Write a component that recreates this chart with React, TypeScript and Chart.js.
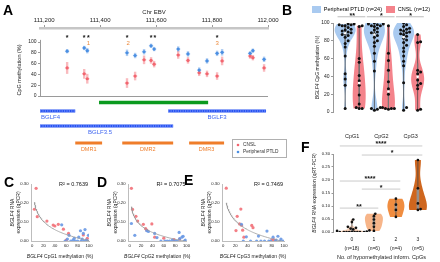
import React, { useEffect, useRef } from 'react';
import { Chart, registerables } from 'chart.js';

Chart.register(...registerables);

const FONT = "'Liberation Sans', Arial, Helvetica, sans-serif";
Chart.defaults.font.family = FONT;
Chart.defaults.color = '#222';

const BLUE = '#4b8fe2';
const RED = '#f2656f';
const BLUE_ERR = 'rgba(75,143,226,0.45)';
const RED_ERR = 'rgba(242,101,111,0.45)';
const BLUE_V = 'rgba(160,196,238,0.9)';
const RED_V = 'rgba(243,118,126,0.9)';
const PT_RED = 'rgba(242,112,120,0.9)';
const PT_BLUE = 'rgba(104,152,228,0.9)';

// ---------- Panel A ----------
const A_TICKS = [111200, 111400, 111600, 111800, 112000];
const A_POS = [111282, 111343, 111354, 111496, 111525, 111557, 111582, 111593, 111679, 111714, 111754, 111782, 111818, 111836, 111936, 111946, 111986];
const A_PTLD = [83, 89, 84, 80, 75, 82, 93, 87, 87, 78, 48, 65, 79, 81, 79, 84, 68];
const A_PTLD_SE = [4, 4, 5, 6, 5, 5, 4, 4, 5, 5, 5, 5, 5, 6, 4, 4, 5];
const A_CNSL = [52, 41, 32, 24, 37, 67, 66, 59, 76, 66, 43, 41, 37, 65, 74, 71, 52];
const A_CNSL_SE = [11, 9, 9, 9, 8, 8, 6, 6, 7, 6, 6, 6, 7, 8, 5, 5, 7];
const A_STARS = [111282, 111343, 111358, 111496, 111582, 111596, 111818];
const A_DMR_NUM_POS = [111358, 111500, 111818];
const A_DMR_NUM = ['1', '2', '3'];
const GENES = ['BGLF4', 'BGLF3.5', 'BGLF3'];
const GENE_START = [111185, 111185, 111643];
const GENE_END = [111311, 111661, 111993];
const GREEN_START = 111396;
const GREEN_END = 111786;
const DMRS = ['DMR1', 'DMR2', 'DMR3'];
const DMR_START = [111311, 111479, 111718];
const DMR_END = [111407, 111661, 111843];

// ---------- Panel B ----------
const B_CATS = ['CpG1', 'CpG2', 'CpG3'];
const B_PTLD = [
  [99, 99, 98, 98, 97, 97, 95, 93, 92, 91, 90, 89, 88, 87, 86, 84, 80, 77, 73, 63, 43, 37, 30, 4],
  [100, 99, 99, 98, 97, 97, 96, 94, 92, 90, 89, 88, 86, 84, 80, 78, 74, 66, 57, 46, 5, 4, 3, 2],
  [100, 98, 96, 94, 93, 92, 91, 90, 89, 88, 87, 85, 83, 81, 78, 75, 72, 68, 63, 57, 52, 33, 5, 2],
];
const B_CNSL = [
  [97, 96, 60, 56, 41, 35, 30, 19, 9, 5, 4, 4],
  [97, 66, 58, 47, 34, 26, 20, 5, 4, 4, 4, 3],
  [87, 79, 78, 47, 45, 43, 36, 32, 30, 26, 3, 2],
];
const B_SIG = ['**', '*', '*'];

// ---------- Panels C, D, E ----------
const C_CNSL_X = [7, 4, 9, 26, 37, 40, 46, 55, 64, 60, 90, 97];
const C_CNSL_Y = [0.277, 0.167, 0.128, 0.105, 0.084, 0.079, 0.088, 0.062, 0.04, 0.005, 0.032, 0.014];
const C_PTLD_X = [52, 58, 62, 65, 68, 72, 74, 76, 80, 82, 85, 86, 88, 90, 91, 93, 95, 97, 99, 100];
const C_PTLD_Y = [0.085, 0.0, 0.01, 0.03, 0.0, 0.005, 0.014, 0.0, 0.0, 0.02, 0.054, 0.0, 0.01, 0.04, 0.0, 0.06, 0.005, 0.0, 0.03, 0.0];
const C_FIT = [-0.0625, 0.29];

const D_CNSL_X = [3, 5, 11, 14, 24, 39, 28, 30, 44, 60, 78, 88];
const D_CNSL_Y = [0.277, 0.166, 0.13, 0.105, 0.088, 0.09, 0.065, 0.058, 0.02, 0.015, 0.008, 0.01];
const D_PTLD_X = [3, 9, 30, 33, 44, 48, 55, 62, 66, 70, 75, 80, 84, 87, 88, 92, 94, 96, 98, 100];
const D_PTLD_Y = [0.092, 0.03, 0.054, 0.05, 0.04, 0.018, 0, 0, 0, 0, 0.005, 0, 0, 0.045, 0.012, 0.02, 0.025, 0, 0.005, 0];
const D_FIT = [-0.052, 0.237];

const E_CNSL_X = [5, 29, 23, 27, 30, 21, 32, 47, 49, 34, 80, 83];
const E_CNSL_Y = [0.278, 0.168, 0.13, 0.09, 0.083, 0.055, 0.057, 0.082, 0.07, 0.02, 0.005, 0.008];
const E_PTLD_X = [30, 38, 33, 45, 58, 62, 72, 75, 82, 86, 87, 90, 93, 95, 98, 55, 68, 78];
const E_PTLD_Y = [0.088, 0.022, 0, 0, 0.026, 0, 0.052, 0, 0.02, 0, 0.005, 0.025, 0, 0.01, 0, 0, 0, 0];
const E_FIT = [-0.068, 0.31];

const R2 = ['0.7639', '0.7075', '0.7469'];

// ---------- Panel F ----------
const F_GROUPS = [
  [0.048, 0.038, 0.02, 0.016, 0.013, 0.01, 0.006, 0.004, 0.002, 0, 0, 0, 0, 0, 0, 0, 0, 0],
  [0.07, 0.061, 0.048, 0.034, 0.02, 0.004],
  [0.128, 0.105, 0.085, 0.058],
  [0.277, 0.168, 0.11, 0.088, 0.085],
];
const F_SIG_FROM = [0, 1, 0, 1, 0];
const F_SIG_TO = [3, 3, 2, 2, 1];
const F_SIG_Y = [0.331, 0.296, 0.196, 0.165, 0.092];
const F_SIG_LABEL = ['****', '*', '****', '*', '**'];
const F_COLORS = ['#fbd4bb', '#f7b589', '#f08d40', '#cf661e'];

// ---------- helpers ----------
type Part = [string, boolean];

function rich(ctx: CanvasRenderingContext2D, parts: Part[], x: number, y: number, size: number, rotate: boolean, color = '#222') {
  ctx.save();
  ctx.translate(x, y);
  if (rotate) ctx.rotate(-Math.PI / 2);
  ctx.textBaseline = 'middle';
  ctx.textAlign = 'left';
  ctx.fillStyle = color;
  const widths = parts.map(([t, it]) => {
    ctx.font = `${it ? 'italic ' : ''}${size}px ${FONT}`;
    return ctx.measureText(t).width;
  });
  let cx = -widths.reduce((s, w) => s + w, 0) / 2;
  parts.forEach(([t, it], i) => {
    ctx.font = `${it ? 'italic ' : ''}${size}px ${FONT}`;
    ctx.fillText(t, cx, 0);
    cx += widths[i];
  });
  ctx.restore();
}

function quantile(sorted: number[], q: number) {
  const pos = (sorted.length - 1) * q;
  const lo = Math.floor(pos);
  const hi = Math.ceil(pos);
  return sorted[lo] + (sorted[hi] - sorted[lo]) * (pos - lo);
}

function bandwidth(vals: number[]) {
  const n = vals.length;
  const m = vals.reduce((s, v) => s + v, 0) / n;
  const sd = Math.sqrt(vals.reduce((s, v) => s + (v - m) ** 2, 0) / (n - 1));
  const s = [...vals].sort((a, b) => a - b);
  const iqr = quantile(s, 0.75) - quantile(s, 0.25);
  let lo = Math.min(sd, iqr / 1.34);
  if (!(lo > 0)) lo = sd || 1;
  return 0.9 * lo * Math.pow(n, -0.2);
}

function density(vals: number[], h: number, v: number) {
  let d = 0;
  for (const x of vals) {
    const z = (v - x) / h;
    d += Math.exp(-0.5 * z * z);
  }
  return d / (vals.length * h);
}

function drawViolin(ctx: CanvasRenderingContext2D, xs: any, ys: any, vals: number[], center: number, halfPx: number, fill: string) {
  const s = [...vals].sort((a, b) => a - b);
  const lo = s[0];
  const hi = s[s.length - 1];
  const h = bandwidth(vals);
  const N = 70;
  const vs: number[] = [];
  const ds: number[] = [];
  for (let i = 0; i <= N; i++) {
    const v = lo + ((hi - lo) * i) / N;
    vs.push(v);
    ds.push(density(vals, h, v));
  }
  const maxD = Math.max(...ds);
  const cx = xs.getPixelForValue(center);
  ctx.beginPath();
  for (let i = 0; i <= N; i++) {
    const px = cx - (halfPx * ds[i]) / maxD;
    const py = ys.getPixelForValue(vs[i]);
    if (i) ctx.lineTo(px, py);
    else ctx.moveTo(px, py);
  }
  for (let i = N; i >= 0; i--) ctx.lineTo(cx + (halfPx * ds[i]) / maxD, ys.getPixelForValue(vs[i]));
  ctx.closePath();
  ctx.fillStyle = fill;
  ctx.fill();
}

function drawInner(ctx: CanvasRenderingContext2D, xs: any, ys: any, vals: number[], center: number, boxW: number, boxColor: string) {
  const s = [...vals].sort((a, b) => a - b);
  const cx = xs.getPixelForValue(center);
  ctx.strokeStyle = '#4a4a4a';
  ctx.lineWidth = 0.8;
  ctx.beginPath();
  ctx.moveTo(cx, ys.getPixelForValue(s[0]));
  ctx.lineTo(cx, ys.getPixelForValue(s[s.length - 1]));
  ctx.stroke();
  const q1 = ys.getPixelForValue(quantile(s, 0.25));
  const q3 = ys.getPixelForValue(quantile(s, 0.75));
  ctx.fillStyle = boxColor;
  ctx.fillRect(cx - boxW / 2, q3, boxW, q1 - q3);
}

// beeswarm offsets (layout only)
function swarm(vals: number[], center: number, pxX: number, pxY: number, d: number) {
  const order = vals.map((_, i) => i).sort((a, b) => vals[a] - vals[b]);
  const placed: { x: number; y: number }[] = [];
  const xs = new Array(vals.length).fill(center);
  for (const i of order) {
    const y = vals[i] * pxY;
    let off = 0;
    for (let step = 0; step < 60; step++) {
      off = step === 0 ? 0 : (step % 2 === 1 ? 1 : -1) * Math.ceil(step / 2) * d * 0.5;
      const o = off;
      if (placed.every((p) => Math.hypot(p.x - o, p.y - y) >= d)) break;
    }
    placed.push({ x: off, y });
    xs[i] = center + off / pxX;
  }
  return xs;
}

const fixedTicks = (vals: number[]) => (axis: any) => {
  axis.ticks = vals.map((value) => ({ value }));
};

// ---------- Panel A chart ----------
function makeA(canvas: HTMLCanvasElement) {
  const plugin = {
    id: 'panelA',
    beforeDatasetsDraw(chart: any) {
      const { ctx, scales: { x, y } } = chart;
      ctx.save();
      const sets: [number[], number[], string][] = [
        [A_PTLD, A_PTLD_SE, BLUE_ERR],
        [A_CNSL, A_CNSL_SE, RED_ERR],
      ];
      sets.forEach(([vals, se, col]) => {
        ctx.strokeStyle = col;
        A_POS.forEach((p, i) => {
          const px = x.getPixelForValue(p);
          ctx.lineWidth = 2.4;
          ctx.beginPath();
          ctx.moveTo(px, y.getPixelForValue(vals[i] - se[i]));
          ctx.lineTo(px, y.getPixelForValue(vals[i] + se[i]));
          ctx.stroke();
          const py = y.getPixelForValue(vals[i]);
          ctx.lineWidth = 1;
          ctx.beginPath();
          ctx.moveTo(px - 2.2, py);
          ctx.lineTo(px + 2.2, py);
          ctx.stroke();
        });
      });
      ctx.restore();
    },
    afterDraw(chart: any) {
      const { ctx, chartArea: a, scales: { x, y } } = chart;
      ctx.save();
      ctx.strokeStyle = '#9a9a9a';
      ctx.lineWidth = 1;
      ctx.beginPath();
      ctx.moveTo(a.left + 0.5, y.getPixelForValue(104));
      ctx.lineTo(a.left + 0.5, y.getPixelForValue(0));
      ctx.stroke();
      ctx.beginPath();
      ctx.moveTo(a.left, y.getPixelForValue(0) + 0.5);
      ctx.lineTo(a.right, y.getPixelForValue(0) + 0.5);
      ctx.stroke();

      rich(ctx, [['CpG methylation (%)', false]], 19, 70, 5.5, true);

      ctx.textAlign = 'center';
      ctx.textBaseline = 'middle';
      ctx.fillStyle = '#111';
      ctx.font = `bold 7px ${FONT}`;
      A_STARS.forEach((p) => ctx.fillText('*', x.getPixelForValue(p), y.getPixelForValue(108)));
      ctx.fillStyle = '#ec8a3c';
      ctx.font = `6px ${FONT}`;
      A_DMR_NUM_POS.forEach((p, i) => ctx.fillText(A_DMR_NUM[i], x.getPixelForValue(p), y.getPixelForValue(98)));

      const b = a.bottom;
      const seg = (s: number, e: number, yy: number, col: string, w: number) => {
        ctx.strokeStyle = col;
        ctx.lineWidth = w;
        ctx.beginPath();
        ctx.moveTo(x.getPixelForValue(s), yy);
        ctx.lineTo(x.getPixelForValue(e), yy);
        ctx.stroke();
      };
      seg(GREEN_START, GREEN_END, b + 6.5, '#0a9a1e', 3.5);
      const geneRows = [b + 15, b + 30, b + 15];
      const labelRows = [b + 21, b + 36, b + 21];
      GENES.forEach((g, i) => {
        seg(GENE_START[i], GENE_END[i], geneRows[i], '#2450f2', 3);
        ctx.setLineDash([1.2, 1.2]);
        seg(GENE_START[i], GENE_END[i], geneRows[i], 'rgba(190,205,255,0.95)', 0.8);
        ctx.setLineDash([]);
      });
      ctx.fillStyle = '#3f66f0';
      ctx.font = `6px ${FONT}`;
      ctx.textAlign = 'left';
      ctx.fillText(GENES[0], x.getPixelForValue(GENE_START[0]) + 1, labelRows[0]);
      ctx.textAlign = 'center';
      ctx.fillText(GENES[1], 100, labelRows[1]);
      ctx.fillText(GENES[2], 217, labelRows[2]);

      DMRS.forEach((d, i) => {
        seg(DMR_START[i], DMR_END[i], b + 47, '#ef7d2a', 3);
        ctx.fillStyle = '#ef7d2a';
        ctx.font = `5.5px ${FONT}`;
        ctx.fillText(d, (x.getPixelForValue(DMR_START[i]) + x.getPixelForValue(DMR_END[i])) / 2, b + 53);
      });

      // legend box
      ctx.fillStyle = '#fff';
      ctx.fillRect(232.5, 139.5, 54, 18);
      ctx.strokeStyle = '#b0b0b0';
      ctx.lineWidth = 1;
      ctx.strokeRect(232.5, 139.5, 54, 18);
      ctx.fillStyle = RED;
      ctx.beginPath();
      ctx.arc(238, 145, 1.3, 0, Math.PI * 2);
      ctx.fill();
      ctx.fillStyle = BLUE;
      ctx.beginPath();
      ctx.arc(238, 152, 1.3, 0, Math.PI * 2);
      ctx.fill();
      ctx.fillStyle = '#333';
      ctx.font = `4.8px ${FONT}`;
      ctx.textAlign = 'left';
      ctx.fillText('CNSL', 243, 145);
      ctx.fillText('Peripheral PTLD', 243, 152);
      ctx.restore();
    },
  };

  return new Chart(canvas, {
    type: 'scatter',
    data: {
      datasets: [
        { label: 'Peripheral PTLD', data: A_POS.map((x, i) => ({ x, y: A_PTLD[i] })), backgroundColor: BLUE, borderWidth: 0, pointRadius: 1.6 },
        { label: 'CNSL', data: A_POS.map((x, i) => ({ x, y: A_CNSL[i] })), backgroundColor: RED, borderWidth: 0, pointRadius: 1.6 },
      ],
    },
    options: {
      responsive: false,
      animation: false,
      events: [],
      layout: { padding: { left: 0, right: 22, top: 0, bottom: 64 } },
      plugins: { legend: { display: false }, tooltip: { enabled: false } },
      scales: {
        x: {
          type: 'linear',
          position: 'top',
          min: 111185,
          max: 112000,
          afterBuildTicks: fixedTicks(A_TICKS),
          afterFit: (s: any) => { s.height = 28; },
          ticks: { callback: (v: any) => Number(v).toLocaleString('en-US'), font: { size: 6 }, padding: 1, maxRotation: 0, color: '#222' },
          grid: { drawOnChartArea: false, drawTicks: true, tickLength: 3, color: '#9a9a9a' },
          border: { display: true, color: '#c6c6c6', width: 2.5 },
          title: { display: true, text: 'Chr EBV', font: { size: 6 }, padding: { top: 9, bottom: 0 }, color: '#222' },
        },
        y: {
          min: 0,
          max: 126,
          afterBuildTicks: fixedTicks([0, 20, 40, 60, 80, 100]),
          afterFit: (s: any) => { s.width = 40; },
          ticks: { font: { size: 5 }, padding: 1.5, color: '#222' },
          grid: { drawOnChartArea: false, tickLength: 2, color: '#9a9a9a' },
          border: { display: false },
        },
      },
    },
    plugins: [plugin],
  } as any);
}

// ---------- Panel B chart ----------
const B_OFF = 0.24;
function makeB(canvas: HTMLCanvasElement) {
  const ptld = B_PTLD.flatMap((vals, g) => {
    const xs = swarm(vals, g + 1 - B_OFF, 30.5, 0.89, 3.1);
    return vals.map((v, i) => ({ x: xs[i], y: v }));
  });
  const cnsl = B_CNSL.flatMap((vals, g) => {
    const xs = swarm(vals, g + 1 + B_OFF, 30.5, 0.89, 3.1);
    return vals.map((v, i) => ({ x: xs[i], y: v }));
  });
  const plugin = {
    id: 'panelB',
    beforeDatasetsDraw(chart: any) {
      const { ctx, scales: { x, y } } = chart;
      ctx.save();
      B_PTLD.forEach((vals, g) => drawViolin(ctx, x, y, vals, g + 1 - B_OFF, 10.5, BLUE_V));
      B_CNSL.forEach((vals, g) => drawViolin(ctx, x, y, vals, g + 1 + B_OFF, 6.5, RED_V));
      B_PTLD.forEach((vals, g) => drawInner(ctx, x, y, vals, g + 1 - B_OFF, 1.2, '#777'));
      B_CNSL.forEach((vals, g) => drawInner(ctx, x, y, vals, g + 1 + B_OFF, 1.2, '#777'));
      ctx.restore();
    },
    afterDatasetsDraw(chart: any) {
      const { ctx, scales: { x, y } } = chart;
      ctx.save();
      ctx.fillStyle = '#fff';
      const med = (vals: number[], c: number) => {
        const s = [...vals].sort((a, b) => a - b);
        ctx.beginPath();
        ctx.arc(x.getPixelForValue(c), y.getPixelForValue(quantile(s, 0.5)), 1.3, 0, Math.PI * 2);
        ctx.fill();
      };
      B_PTLD.forEach((v, g) => med(v, g + 1 - B_OFF));
      B_CNSL.forEach((v, g) => med(v, g + 1 + B_OFF));
      ctx.restore();
    },
    afterDraw(chart: any) {
      const { ctx, chartArea: a, scales: { x, y } } = chart;
      ctx.save();
      B_SIG.forEach((lab, g) => {
        const c = g + 1;
        const ly = y.getPixelForValue(107);
        ctx.strokeStyle = '#aaa';
        ctx.lineWidth = 0.8;
        ctx.beginPath();
        ctx.moveTo(x.getPixelForValue(c - 0.5), ly);
        ctx.lineTo(x.getPixelForValue(c + 0.45), ly);
        ctx.stroke();
        ctx.fillStyle = '#111';
        ctx.font = `bold 7px ${FONT}`;
        ctx.textAlign = 'center';
        ctx.textBaseline = 'middle';
        ctx.fillText(lab, x.getPixelForValue(c), ly - 1);
      });
      rich(ctx, [['BGLF4', true], [' CpG methylation (%)', false]], a.left - 15, (a.top + a.bottom) / 2, 5, true);
      ctx.restore();
    },
  };
  return new Chart(canvas, {
    type: 'scatter',
    data: {
      datasets: [
        { label: 'Peripheral PTLD (n=24)', data: ptld, backgroundColor: '#111', borderWidth: 0, pointRadius: 1.5 },
        { label: 'CNSL (n=12)', data: cnsl, backgroundColor: '#111', borderWidth: 0, pointRadius: 1.5 },
      ],
    },
    options: {
      responsive: false,
      animation: false,
      events: [],
      layout: { padding: { left: 0, right: 6, top: 2, bottom: 0 } },
      plugins: {
        tooltip: { enabled: false },
        legend: {
          position: 'top',
          align: 'end',
          labels: {
            boxWidth: 9,
            boxHeight: 7,
            padding: 4,
            font: { size: 5.5 },
            color: '#222',
            generateLabels: () => [
              { text: `Peripheral PTLD (n=${B_PTLD[0].length})`, fillStyle: BLUE_V, strokeStyle: BLUE_V, lineWidth: 0, datasetIndex: 0 },
              { text: `CNSL (n=${B_CNSL[0].length})`, fillStyle: RED_V, strokeStyle: RED_V, lineWidth: 0, datasetIndex: 1 },
            ],
          },
        },
      },
      scales: {
        x: {
          type: 'linear',
          min: 0.344,
          max: 3.65,
          afterBuildTicks: fixedTicks([1, 2, 3]),
          afterFit: (s: any) => { s.height = 33; },
          ticks: { callback: (v: any) => B_CATS[Number(v) - 1], font: { size: 5.5 }, padding: 21, color: '#222' },
          grid: { display: false, drawTicks: false },
          border: { display: false },
        },
        y: {
          min: 0,
          max: 100,
          afterBuildTicks: fixedTicks([0, 20, 40, 60, 80, 100]),
          afterFit: (s: any) => { s.width = 43; },
          ticks: { font: { size: 5 }, padding: 1.5, color: '#222' },
          grid: { drawOnChartArea: false, tickLength: 2, color: '#999' },
          border: { color: '#999' },
        },
      },
    },
    plugins: [plugin],
  } as any);
}

// ---------- Panels C, D, E ----------
function makeCorr(canvas: HTMLCanvasElement, rx: number[], ry: number[], bx: number[], by: number[], fit: number[], r2: string, cpg: string, yw: number, padRight: number, xmin: number) {
  const allX = [...rx, ...bx];
  const x0 = Math.min(...allX);
  const x1 = Math.max(...allX);
  // fitted logarithmic trendline (coefficients)
  const trend: { x: number; y: number }[] = [];
  for (let i = 0; i <= 80; i++) {
    const xv = x0 * Math.pow(x1 / x0, i / 80);
    trend.push({ x: xv, y: fit[0] * Math.log(xv) + fit[1] });
  }
  const plugin = {
    id: 'corr',
    afterDraw(chart: any) {
      const { ctx, chartArea: a } = chart;
      ctx.save();
      ctx.fillStyle = '#111';
      ctx.font = `5.5px ${FONT}`;
      ctx.textAlign = 'right';
      ctx.textBaseline = 'middle';
      ctx.fillText(`R² = ${r2}`, a.right - 1, a.top + 0.5);
      const cy = (a.top + a.bottom) / 2;
      rich(ctx, [['BGLF4', true], [' RNA', false]], a.left - 18, cy, 5, true);
      rich(ctx, [['expression (qPCR)', false]], a.left - 12.5, cy, 5, true);
      rich(ctx, [['BGLF4', true], [` ${cpg} methylation (%)`, false]], (a.left + a.right) / 2, a.bottom + 16, 5, false);
      ctx.restore();
    },
  };
  return new Chart(canvas, {
    type: 'scatter',
    data: {
      datasets: [
        { data: trend, showLine: true, pointRadius: 0, borderColor: '#9c9c9c', borderWidth: 0.8, backgroundColor: '#9c9c9c' },
        { data: bx.map((x, i) => ({ x, y: by[i] })), backgroundColor: PT_BLUE, borderWidth: 0, pointRadius: 1.6 },
        { data: rx.map((x, i) => ({ x, y: ry[i] })), backgroundColor: PT_RED, borderWidth: 0, pointRadius: 1.6 },
      ],
    },
    options: {
      responsive: false,
      animation: false,
      events: [],
      layout: { padding: { left: 0, right: padRight, top: 12, bottom: 0 } },
      plugins: { legend: { display: false }, tooltip: { enabled: false } },
      scales: {
        x: {
          type: 'linear',
          min: xmin,
          max: 100,
          afterBuildTicks: fixedTicks([0, 20, 40, 60, 80, 100]),
          afterFit: (s: any) => { s.height = 21; },
          ticks: { font: { size: 4.2 }, padding: 2, color: '#222', maxRotation: 0 },
          grid: { drawOnChartArea: false, drawTicks: false },
          border: { color: '#bdbdbd' },
        },
        y: {
          min: 0,
          max: 0.3,
          afterBuildTicks: fixedTicks([0, 0.1, 0.2, 0.3]),
          afterFit: (s: any) => { s.width = yw; },
          ticks: { font: { size: 4.2 }, padding: 2.5, color: '#222', callback: (v: any) => Number(v).toFixed(2) },
          grid: { drawOnChartArea: false, drawTicks: false },
          border: { color: '#bdbdbd' },
        },
      },
    },
    plugins: [plugin],
  } as any);
}

// ---------- Panel F ----------
function makeF(canvas: HTMLCanvasElement) {
  const pts = F_GROUPS.flatMap((vals, g) => {
    const xs = swarm(vals, g, 22, 260, 2.7);
    return vals.map((v, i) => ({ x: xs[i], y: v }));
  });
  const halves = [13, 9, 8.5, 9];
  const plugin = {
    id: 'panelF',
    beforeDatasetsDraw(chart: any) {
      const { ctx, scales: { x, y } } = chart;
      ctx.save();
      F_GROUPS.forEach((vals, g) => drawViolin(ctx, x, y, vals, g, halves[g], F_COLORS[g]));
      F_GROUPS.forEach((vals, g) => drawInner(ctx, x, y, vals, g, 2.6, 'rgba(150,150,150,0.9)'));
      ctx.restore();
    },
    afterDraw(chart: any) {
      const { ctx, chartArea: a, scales: { x, y } } = chart;
      ctx.save();
      F_SIG_LABEL.forEach((lab, i) => {
        const x1 = Math.max(x.getPixelForValue(F_SIG_FROM[i] - 0.55), a.left);
        const x2 = x.getPixelForValue(F_SIG_TO[i] + 0.2);
        const ly = y.getPixelForValue(F_SIG_Y[i]);
        ctx.strokeStyle = '#c4c4c4';
        ctx.lineWidth = 0.9;
        ctx.beginPath();
        ctx.moveTo(x1, ly);
        ctx.lineTo(x2, ly);
        ctx.stroke();
        ctx.fillStyle = '#111';
        ctx.font = `bold 7px ${FONT}`;
        ctx.textAlign = 'center';
        ctx.textBaseline = 'middle';
        ctx.fillText(lab, (x1 + x2) / 2, ly - 1.5);
      });
      rich(ctx, [['BGLF4', true], [' RNA expression (qRT-PCR)', false]], a.left - 18, (a.top + a.bottom) / 2, 5, true);
      ctx.restore();
    },
  };
  return new Chart(canvas, {
    type: 'scatter',
    data: { datasets: [{ data: pts, backgroundColor: '#111', borderWidth: 0, pointRadius: 1.35 }] },
    options: {
      responsive: false,
      animation: false,
      events: [],
      layout: { padding: { left: 0, right: 10, top: 14, bottom: 0 } },
      plugins: { legend: { display: false }, tooltip: { enabled: false } },
      scales: {
        x: {
          type: 'linear',
          min: -0.86,
          max: 3.55,
          afterBuildTicks: fixedTicks([0, 1, 2, 3]),
          afterFit: (s: any) => { s.height = 30; },
          ticks: { callback: (v: any) => [String(v), `(n=${F_GROUPS[Number(v)].length})`], font: { size: 5, lineHeight: 1.75 }, padding: 3, color: '#222', maxRotation: 0 },
          grid: { display: false, drawTicks: false },
          border: { display: false },
          title: { display: true, text: 'No. of hypomethylated inform. CpGs', font: { size: 5.5 }, padding: { top: 0, bottom: 1 }, color: '#222' },
        },
        y: {
          min: 0,
          max: 0.3,
          afterBuildTicks: fixedTicks([0, 0.05, 0.1, 0.15, 0.2, 0.25, 0.3]),
          afterFit: (s: any) => { s.width = 33; },
          ticks: { font: { size: 4.2 }, padding: 1.5, color: '#222', callback: (v: any) => Number(v).toFixed(2) },
          grid: { drawOnChartArea: false, tickLength: 1.5, color: '#999' },
          border: { color: '#999' },
        },
      },
    },
    plugins: [plugin],
  } as any);
}

const letter = (t: string, left: number, top: number) => (
  <div key={t} style={{ position: 'absolute', left, top, fontSize: 14, lineHeight: '14px', fontWeight: 'bold', fontFamily: FONT, color: '#000' }}>{t}</div>
);

const cv = (ref: any, left: number, top: number, w: number, h: number) => (
  <canvas ref={ref} width={w} height={h} style={{ position: 'absolute', left, top, width: w, height: h }} />
);

export default function App() {
  const rA = useRef<HTMLCanvasElement>(null);
  const rB = useRef<HTMLCanvasElement>(null);
  const rC = useRef<HTMLCanvasElement>(null);
  const rD = useRef<HTMLCanvasElement>(null);
  const rE = useRef<HTMLCanvasElement>(null);
  const rF = useRef<HTMLCanvasElement>(null);

  useEffect(() => {
    const charts = [
      makeA(rA.current!),
      makeB(rB.current!),
      makeCorr(rC.current!, C_CNSL_X, C_CNSL_Y, C_PTLD_X, C_PTLD_Y, C_FIT, R2[0], 'CpG1', 31, 6, -2),
      makeCorr(rD.current!, D_CNSL_X, D_CNSL_Y, D_PTLD_X, D_PTLD_Y, D_FIT, R2[1], 'CpG2', 33, 2, -3),
      makeCorr(rE.current!, E_CNSL_X, E_CNSL_Y, E_PTLD_X, E_PTLD_Y, E_FIT, R2[2], 'CpG3', 32, 6, -2),
      makeF(rF.current!),
    ];
    return () => charts.forEach((c) => c.destroy());
  }, []);

  return (
    <div style={{ position: 'absolute', left: 0, top: 0, width: 440, height: 262, background: '#fff', overflow: 'hidden' }}>
      {cv(rA, 0, 0, 290, 160)}
      {cv(rB, 290, 0, 150, 145)}
      {cv(rC, 0, 172, 95, 90)}
      {cv(rD, 95, 172, 97, 90)}
      {cv(rE, 190, 172, 100, 90)}
      {cv(rF, 300, 140, 140, 122)}
      {letter('A', 3, 3)}
      {letter('B', 282, 3)}
      {letter('C', 4, 175)}
      {letter('D', 97, 175)}
      {letter('E', 184, 173)}
      {letter('F', 301, 140)}
    </div>
  );
}
